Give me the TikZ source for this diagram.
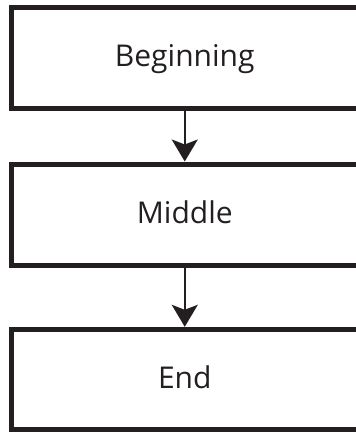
\documentclass[tikz,border=0pt]{standalone}
\usepackage{fontspec}
\setmainfont{Open Sans}
\usetikzlibrary{positioning,arrows.meta}
\definecolor{inkblack}{HTML}{231F20}

\begin{document}
\begin{tikzpicture}[x=1pt,y=-1pt,
	stage/.style={draw=inkblack, line width=5pt, minimum width=346.5pt, minimum height=101pt, inner sep=0pt, text=inkblack, font=\fontsize{30}{31}\selectfont, text height=21pt, text depth=4pt},
	flow/.style={draw=inkblack, line width=2pt, -{Stealth[length=22pt, width=26pt, inset=5pt]}}]
	\useasboundingbox (0,0) rectangle (356,432);
	\node[stage] (beginning) at (184.75,57.5) {Beginning};
	\node[stage, below=51pt of beginning] (middle) {Middle};
	\node[stage, below=59.3pt of middle, minimum height=100.5pt] (ending) {End};
	\draw[flow] (beginning) -- (middle);
	\draw[flow] (middle) -- (ending);
\end{tikzpicture}
\end{document}
